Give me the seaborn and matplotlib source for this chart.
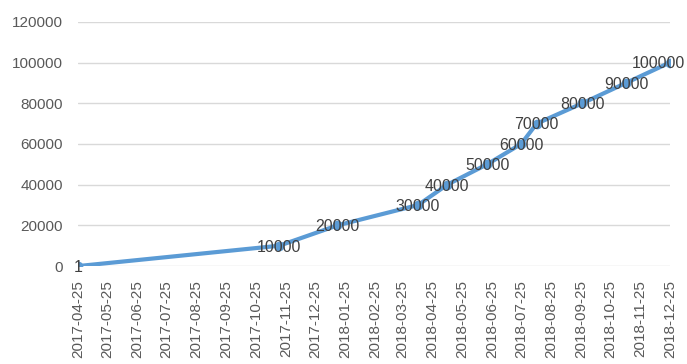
import matplotlib
matplotlib.use("Agg")
import matplotlib.pyplot as plt
import seaborn as sns
import pandas as pd

dates = ["2017-04-25", "2017-11-18", "2018-01-17", "2018-04-10", "2018-05-10",
         "2018-06-20", "2018-07-25", "2018-08-10", "2018-09-26", "2018-11-10",
         "2018-12-25"]
values = [1, 10000, 20000, 30000, 40000, 50000, 60000, 70000, 80000, 90000, 100000]
tick_dates = ["2017-04-25", "2017-05-25", "2017-06-25", "2017-07-25", "2017-08-25",
              "2017-09-25", "2017-10-25", "2017-11-25", "2017-12-25", "2018-01-25",
              "2018-02-25", "2018-03-25", "2018-04-25", "2018-05-25", "2018-06-25",
              "2018-07-25", "2018-08-25", "2018-09-25", "2018-10-25", "2018-11-25",
              "2018-12-25"]
y_ticks = [0, 20000, 40000, 60000, 80000, 100000, 120000]

sns.set_style("white")
plt.rcParams['font.family'] = ['Liberation Sans', 'DejaVu Sans']

df = pd.DataFrame({"date": pd.to_datetime(dates), "value": values})

fig = plt.figure(figsize=(6.87, 3.64), dpi=100)
ax = fig.add_axes([0.1135, 0.269, 0.8615, 0.671])

sns.lineplot(data=df, x="date", y="value", ax=ax, color="#5B9BD5", linewidth=3,
             marker="o", markersize=7, markeredgewidth=0, zorder=3)

n = len(values)
for i, (d, v) in enumerate(zip(df["date"], df["value"])):
    dx = -8 if i == n - 1 else 0
    ax.annotate(str(v), (d, v), xytext=(dx, -1), textcoords="offset points",
                ha="center", va="center", fontsize=11.5, color="#404040", zorder=4,
                annotation_clip=False)

ax.set_xlim(pd.Timestamp(tick_dates[0]), pd.Timestamp(tick_dates[-1]))
ax.set_ylim(0, 120000)
ax.set_yticks(y_ticks)
ax.set_yticklabels([str(t) for t in y_ticks])
ax.set_xticks(pd.to_datetime(tick_dates))
ax.set_xticklabels(tick_dates, rotation=90)
ax.tick_params(axis="both", labelsize=11, labelcolor="#595959", length=0)
ax.tick_params(axis="x", pad=10)
ax.tick_params(axis="y", pad=11)
ax.yaxis.grid(True, color="#D9D9D9", linewidth=1)
ax.xaxis.grid(False)
for s in ax.spines.values():
    s.set_visible(False)
ax.set_xlabel("")
ax.set_ylabel("")

fig.savefig("out.png", dpi=100)
